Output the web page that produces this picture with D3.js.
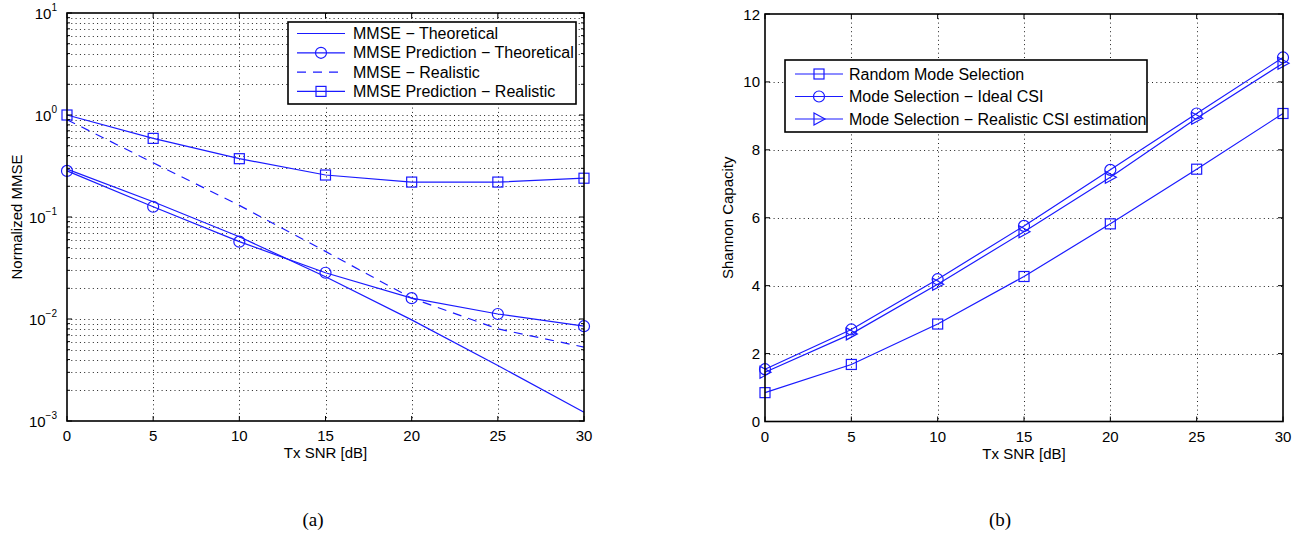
<!DOCTYPE html>
<html>
<head>
<meta charset="utf-8">
<script src="https://cdn.jsdelivr.net/npm/d3@7"></script>
<style>
  body { margin: 0; background: #fff; }
  text { font-family: "Liberation Sans", Arial, sans-serif; fill: #000; }
</style>
</head>
<body>
<div></div>
<script>
//size of the page
var width = 1307;
var height = 534;

//x values (Tx SNR in dB), shared by both panels
var snr = [0, 5, 10, 15, 20, 25, 30];
var xTicks = [0, 5, 10, 15, 20, 25, 30];

//panel (a) series
var mmseTheo = [0.295, 0.141, 0.064, 0.026, 0.0098, 0.0035, 0.00122];
var mmsePredTheo = [0.283, 0.126, 0.0573, 0.0284, 0.016, 0.0112, 0.0085];
var mmseReal = [0.9, 0.34, 0.13, 0.046, 0.016, 0.008, 0.0053];
var mmsePredReal = [1.0, 0.59, 0.373, 0.258, 0.22, 0.22, 0.24];
var yTicksA = [1e-3, 1e-2, 1e-1, 1e0, 1e1];
var yExpA = [-3, -2, -1, 0, 1];
var legendA = ["MMSE \u2212 Theoretical", "MMSE Prediction \u2212 Theoretical",
               "MMSE \u2212 Realistic", "MMSE Prediction \u2212 Realistic"];

//panel (b) series
var randomMode = [0.85, 1.68, 2.87, 4.27, 5.82, 7.43, 9.07];
var idealCSI = [1.54, 2.71, 4.19, 5.76, 7.41, 9.07, 10.72];
var realCSI = [1.45, 2.58, 4.04, 5.59, 7.19, 8.93, 10.55];
var yTicksB = [0, 2, 4, 6, 8, 10, 12];
var legendB = ["Random Mode Selection", "Mode Selection \u2212 Ideal CSI",
               "Mode Selection \u2212 Realistic CSI estimation"];

var BLUE = "#1a1aff";
var GRID = "#222";

var svg = d3.select("div")
            .append("svg")
            .attr("width", width)
            .attr("height", height);

//plot areas of the two panels
var boxA = {left: 67, right: 584, top: 13, bottom: 421};
var boxB = {left: 765, right: 1283, top: 14, bottom: 421.5};

//scales
var xA = d3.scaleLinear().domain([0, 30]).range([boxA.left, boxA.right]);
var yA = d3.scaleLog().domain([1e-3, 1e1]).range([boxA.bottom, boxA.top]);
var xB = d3.scaleLinear().domain([0, 30]).range([boxB.left, boxB.right]);
var yB = d3.scaleLinear().domain([0, 12]).range([boxB.bottom, boxB.top]);

//minor log positions 2..9 of each decade
var minorA = [];
yTicksA.slice(0, -1).forEach(function(d) {
  for (var k = 2; k <= 9; ++k) minorA.push(d * k);
});

//dotted grid lines
function drawGrid(g, x, y, box, yVals) {
  g.selectAll(".gx")
   .data(xTicks.slice(1, -1))
   .enter().append("line")
   .attr("x1", function(d) {return Math.round(x(d)) + 0.5;})
   .attr("x2", function(d) {return Math.round(x(d)) + 0.5;})
   .attr("y1", box.top).attr("y2", box.bottom)
   .attr("stroke", GRID).attr("stroke-width", 1)
   .attr("stroke-dasharray", "1,3.3");
  g.selectAll(".gy")
   .data(yVals)
   .enter().append("line")
   .attr("x1", box.left).attr("x2", box.right)
   .attr("y1", function(d) {return Math.round(y(d)) + 0.5;})
   .attr("y2", function(d) {return Math.round(y(d)) + 0.5;})
   .attr("stroke", GRID).attr("stroke-width", 1)
   .attr("stroke-dasharray", "1,3.3");
}

//inside ticks on all four sides (matlab style)
function drawTicks(g, x, y, box, yMajor, yMinor) {
  var t = [];
  xTicks.forEach(function(d) {
    t.push([x(d), box.bottom, x(d), box.bottom - 5]);
    t.push([x(d), box.top, x(d), box.top + 5]);
  });
  yMajor.forEach(function(d) {
    t.push([box.left, y(d), box.left + 5, y(d)]);
    t.push([box.right, y(d), box.right - 5, y(d)]);
  });
  yMinor.forEach(function(d) {
    t.push([box.left, y(d), box.left + 3, y(d)]);
    t.push([box.right, y(d), box.right - 3, y(d)]);
  });
  g.selectAll(".tk")
   .data(t)
   .enter().append("line")
   .attr("x1", function(d) {return d[0];})
   .attr("y1", function(d) {return d[1];})
   .attr("x2", function(d) {return d[2];})
   .attr("y2", function(d) {return d[3];})
   .attr("stroke", "#000").attr("stroke-width", 1);
  g.append("rect")
   .attr("x", box.left).attr("y", box.top)
   .attr("width", box.right - box.left)
   .attr("height", box.bottom - box.top)
   .attr("fill", "none").attr("stroke", "#000").attr("stroke-width", 1.6);
  //x tick labels
  g.selectAll(".xl")
   .data(xTicks)
   .enter().append("text")
   .attr("x", function(d) {return x(d);})
   .attr("y", box.bottom + 20)
   .attr("text-anchor", "middle")
   .style("font-size", "15px")
   .text(function(d) {return d;});
}

//markers
function drawMarker(g, shape, cx, cy) {
  if (shape == "circle") {
    g.append("circle").attr("cx", cx).attr("cy", cy).attr("r", 5.5)
     .attr("fill", "none").attr("stroke", BLUE).attr("stroke-width", 1.2);
  } else if (shape == "square") {
    g.append("rect").attr("x", cx - 5).attr("y", cy - 5)
     .attr("width", 10).attr("height", 10)
     .attr("fill", "none").attr("stroke", BLUE).attr("stroke-width", 1.2);
  } else if (shape == "tri") {
    g.append("path")
     .attr("d", "M" + (cx - 5) + "," + (cy - 6) + "L" + (cx + 6) + "," + cy +
                "L" + (cx - 5) + "," + (cy + 6) + "Z")
     .attr("fill", "none").attr("stroke", BLUE).attr("stroke-width", 1.2);
  }
}

function drawSeries(g, x, y, vals, shape, dash) {
  var line = d3.line()
               .x(function(d, i) {return x(snr[i]);})
               .y(function(d) {return y(d);});
  g.append("path")
   .attr("d", line(vals))
   .attr("fill", "none")
   .attr("stroke", BLUE)
   .attr("stroke-width", 1.2)
   .attr("stroke-dasharray", dash ? "9,7" : null);
  if (shape) {
    vals.forEach(function(d, i) {drawMarker(g, shape, x(snr[i]), y(d));});
  }
}

function drawLegend(g, box, labels, shapes, dashes, rowH, lx0, lx1, tx) {
  g.append("rect")
   .attr("x", box.x).attr("y", box.y)
   .attr("width", box.w).attr("height", box.h)
   .attr("fill", "#fff").attr("stroke", "#000").attr("stroke-width", 1.6);
  labels.forEach(function(lab, i) {
    var yy = box.y + box.first + i * rowH;
    g.append("line")
     .attr("x1", lx0).attr("x2", lx1).attr("y1", yy).attr("y2", yy)
     .attr("stroke", BLUE).attr("stroke-width", 1.2)
     .attr("stroke-dasharray", dashes[i] ? "9,7" : null);
    if (shapes[i]) drawMarker(g, shapes[i], (lx0 + lx1) / 2, yy);
    g.append("text")
     .attr("x", tx).attr("y", yy + 5.5)
     .style("font-size", "16px")
     .text(lab);
  });
}

//---------- panel (a) ----------
var gA = svg.append("g");
drawGrid(gA, xA, yA, boxA, yTicksA.slice(1, -1).concat(minorA));
drawSeries(gA, xA, yA, mmseTheo, null, false);
drawSeries(gA, xA, yA, mmsePredTheo, "circle", false);
drawSeries(gA, xA, yA, mmseReal, null, true);
drawSeries(gA, xA, yA, mmsePredReal, "square", false);
drawTicks(gA, xA, yA, boxA, yTicksA, minorA);

//log tick labels 10^n
var yl = gA.selectAll(".yl")
           .data(yTicksA)
           .enter().append("text")
           .attr("x", boxA.left - 10)
           .attr("y", function(d) {return yA(d) + 6;})
           .attr("text-anchor", "end")
           .style("font-size", "15px");
yl.append("tspan").text("10");
yl.append("tspan")
  .attr("dy", -8)
  .style("font-size", "10px")
  .text(function(d, i) {return yExpA[i] < 0 ? "\u2212" + (-yExpA[i]) : yExpA[i];});

gA.append("text")
  .attr("x", (boxA.left + boxA.right) / 2).attr("y", boxA.bottom + 37)
  .attr("text-anchor", "middle").style("font-size", "15px")
  .text("Tx SNR [dB]");
gA.append("text")
  .attr("transform", "translate(22," + ((boxA.top + boxA.bottom) / 2) + ") rotate(-90)")
  .attr("text-anchor", "middle").style("font-size", "15px")
  .text("Normalized MMSE");
gA.append("text")
  .attr("x", 313).attr("y", 526)
  .attr("text-anchor", "middle")
  .style("font-family", "'Liberation Serif', 'Times New Roman', serif")
  .style("font-size", "19px")
  .text("(a)");

drawLegend(gA, {x: 288, y: 22, w: 288, h: 82, first: 11.5}, legendA,
           [null, "circle", null, "square"], [false, false, true, false],
           19.3, 297, 345, 353);

//---------- panel (b) ----------
var gB = svg.append("g");
drawGrid(gB, xB, yB, boxB, yTicksB.slice(1, -1));
drawSeries(gB, xB, yB, randomMode, "square", false);
drawSeries(gB, xB, yB, idealCSI, "circle", false);
drawSeries(gB, xB, yB, realCSI, "tri", false);
drawTicks(gB, xB, yB, boxB, yTicksB, []);

gB.selectAll(".yl")
  .data(yTicksB)
  .enter().append("text")
  .attr("x", boxB.left - 5)
  .attr("y", function(d) {return yB(d) + 5.5;})
  .attr("text-anchor", "end")
  .style("font-size", "15px")
  .text(function(d) {return d;});

gB.append("text")
  .attr("x", (boxB.left + boxB.right) / 2).attr("y", boxB.bottom + 37)
  .attr("text-anchor", "middle").style("font-size", "15px")
  .text("Tx SNR [dB]");
gB.append("text")
  .attr("transform", "translate(733," + ((boxB.top + boxB.bottom) / 2) + ") rotate(-90)")
  .attr("text-anchor", "middle").style("font-size", "15px")
  .text("Shannon Capacity");
gB.append("text")
  .attr("x", 1000).attr("y", 526)
  .attr("text-anchor", "middle")
  .style("font-family", "'Liberation Serif', 'Times New Roman', serif")
  .style("font-size", "19px")
  .text("(b)");

drawLegend(gB, {x: 785, y: 60, w: 362, h: 72, first: 14}, legendB,
           ["square", "circle", "tri"], [false, false, false],
           22.5, 795, 843, 849);
</script>
</body>
</html>
